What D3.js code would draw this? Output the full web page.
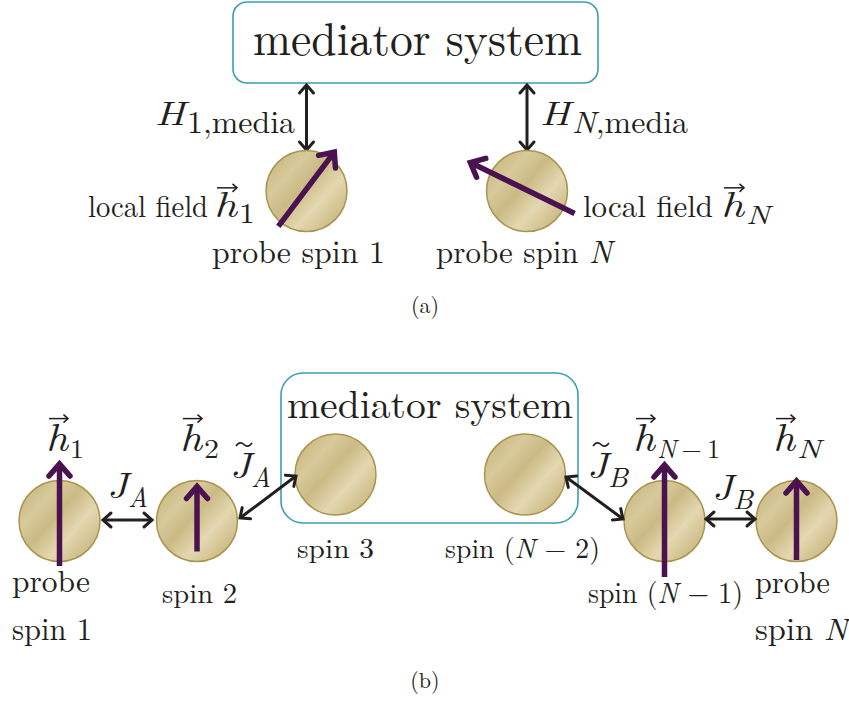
<!DOCTYPE html>
<html>
<head>
<meta charset="utf-8">
<script src="https://cdn.jsdelivr.net/npm/d3@7"></script>
<style>
  html, body { margin: 0; padding: 0; background: #fff; }
</style>
</head>
<body>
<script>
'use strict';

// ---- data ----
// panel (a): two probe spins coupled to the mediator
const aProbeLabels = ['probe spin 1', 'probe spin N'];
const aCouplings   = [['1', ',media'], ['N', ',media']];
const aFieldSub    = ['1', 'N'];
const aFieldAngle  = [53, 154];     // direction of local field, degrees (counter-clockwise from +x)
const aFieldLen    = [93, 116];

// panel (b): spin chain
const bSpinNames   = ['probe spin 1', 'spin 2', 'spin 3', 'spin (N − 2)', 'spin (N − 1)', 'probe spin N'];
const bFieldSub    = ['1', '2', null, null, 'N−1', 'N'];
const bFieldLen    = [102, 65, 0, 0, 112, 79];
const bFieldShift  = [-6, -2, 0, 0, 0, -0.5];
const bCouplings   = [['J', 'A', false], ['J', 'A', true], ['J', 'B', true], ['J', 'B', false]];
const captions     = ['(a)', '(b)'];

const W = 849, H = 702;
const ink = '#231f20', purple = '#4b1250', teal = '#3d9db3';
const FONT = '"Latin Modern Roman", "Liberation Serif", serif';

const svg = d3.select('body').append('svg').attr('width', W).attr('height', H)
  .style('font-family', FONT);

const defs = svg.append('defs');
const grad = defs.append('linearGradient').attr('id', 'gold')
  .attr('x1', 0).attr('y1', 0).attr('x2', 1).attr('y2', 0.9);
[[0, '#c3af74'], [0.3, '#d8ca9c'], [0.47, '#cbba85'], [0.68, '#e4d8b1'], [1, '#c3af74']]
  .forEach(s => grad.append('stop').attr('offset', s[0]).attr('stop-color', s[1]));

const R = 40.5;

// ---- helpers ----
function label(g, x, y, size, str, opts) {
  opts = opts || {};
  const t = g.append('text').attr('x', x).attr('y', y).attr('font-size', size)
    .style('font-family', FONT).attr('fill', ink).text(str);
  if (opts.italic) t.attr('font-style', 'italic');
  if (opts.anchor) t.attr('text-anchor', opts.anchor);
  if (opts.width) t.attr('textLength', opts.width).attr('lengthAdjust', 'spacingAndGlyphs');
  return t;
}

function head(g, tip, from, len, half, color, sw) {
  const dx = tip[0] - from[0], dy = tip[1] - from[1];
  const d = Math.hypot(dx, dy), ux = dx / d, uy = dy / d;
  const bx = tip[0] - ux * len, by = tip[1] - uy * len;
  const pts = [[bx - uy * half, by + ux * half], tip, [bx + uy * half, by - ux * half]];
  g.append('path').attr('d', d3.line()(pts)).attr('fill', 'none')
    .attr('stroke', color).attr('stroke-width', sw)
    .attr('stroke-linecap', 'round').attr('stroke-linejoin', 'miter');
}

function arrow(g, p0, p1, opts) {
  const sw = opts.sw, color = opts.color;
  g.append('line').attr('x1', p0[0]).attr('y1', p0[1]).attr('x2', p1[0]).attr('y2', p1[1])
    .attr('stroke', color).attr('stroke-width', sw).attr('stroke-linecap', 'butt');
  head(g, p1, p0, opts.len, opts.half, color, sw);
  if (opts.both) head(g, p0, p1, opts.len, opts.half, color, sw);
}

const black = { sw: 3, color: ink, len: 8, half: 7, both: true };
const field = { sw: 5.5, color: purple, len: 12, half: 10.5, both: false };

function spin(g, cx, cy) {
  g.append('circle').attr('cx', cx).attr('cy', cy).attr('r', R)
    .attr('fill', 'url(#gold)').attr('stroke', '#a8954f').attr('stroke-width', 1.5);
}

// vector h with subscript; x = left of h, y = baseline, hw = width of h
function vecH(g, x, y, size, hw, sub, subSize, subDy, subW) {
  label(g, x, y, size, 'h', { italic: true, width: hw });
  const ay = y - size * 0.81, ax0 = x + 3, ax1 = x + hw;
  g.append('line').attr('x1', ax0).attr('y1', ay).attr('x2', ax1).attr('y2', ay)
    .attr('stroke', ink).attr('stroke-width', 1.5);
  g.append('path').attr('d', d3.line()([[ax1 - 4.5, ay - 4], [ax1, ay], [ax1 - 4.5, ay + 4]]))
    .attr('fill', 'none').attr('stroke', ink).attr('stroke-width', 1.5);
  const t = g.append('text').attr('x', x + hw + 2).attr('y', y + subDy).attr('font-size', subSize)
    .style('font-family', FONT).attr('fill', ink);
  if (subW) t.attr('textLength', subW).attr('lengthAdjust', 'spacingAndGlyphs');
  sub.split('').forEach(c => {
    const ts = t.append('tspan').text(c === '−' ? '\u2009−\u2009' : c);
    if (/[A-Z]/.test(c)) ts.attr('font-style', 'italic');
  });
  return t;
}

// J or J-tilde with subscript
function coupling(g, x, y, name, sub, tilde) {
  label(g, x, y, 36, name, { italic: true, width: 21 });
  if (tilde) {
    const tx = x + 6;
    g.append('path').attr('d', `M${tx},${y - 32} q4,-5.5 8,-1.5 t8,-1.5`).attr('fill', 'none')
      .attr('stroke', ink).attr('stroke-width', 1.7);
  }
  label(g, x + 21, y + 9, 28, sub, { italic: true, width: 20 });
}

// ===== panel (a) =====
const ga = svg.append('g');
ga.append('rect').attr('x', 233).attr('y', 2).attr('width', 365).attr('height', 81)
  .attr('rx', 14).attr('fill', 'none').attr('stroke', teal).attr('stroke-width', 1.6);
label(ga, 253, 55, 46, 'mediator system', { width: 329 });

const aX = d3.scalePoint().domain(d3.range(aProbeLabels.length)).range([306.5, 527]);
const aCy = 191;
const aMid = [[-0.2, -1.8], [-4.5, -3]];

aProbeLabels.forEach((name, i) => {
  const cx = aX(i);
  arrow(ga, [cx, 85], [cx, 150], black);
  spin(ga, cx, aCy);
  const ang = aFieldAngle[i] * Math.PI / 180, L = aFieldLen[i];
  const mx = cx + aMid[i][0], my = aCy + aMid[i][1];
  const p0 = [mx - Math.cos(ang) * L / 2, my + Math.sin(ang) * L / 2];
  const p1 = [mx + Math.cos(ang) * L / 2, my - Math.sin(ang) * L / 2];
  arrow(ga, p0, p1, field);
});

// coupling labels H_{k,media}
[[155, 187], [540, 572]].forEach((pos, i) => {
  label(ga, pos[0], 125, 33, 'H', { italic: true, width: 30 });
  const t = ga.append('text').attr('x', pos[1]).attr('y', 133).attr('font-size', 31)
    .style('font-family', FONT).attr('fill', ink)
    .attr('textLength', i === 0 ? 108 : 116).attr('lengthAdjust', 'spacingAndGlyphs');
  t.append('tspan').text(aCouplings[i][0]).attr('font-style', i === 0 ? 'normal' : 'italic');
  t.append('tspan').text(aCouplings[i][1]);
});

// local field labels
label(ga, 88, 217, 31, 'local field', { width: 120 });
vecH(ga, 214, 217, 36, 23, aFieldSub[0], 28, 6, 16);
label(ga, 583, 217, 31, 'local field', { width: 130 });
vecH(ga, 721, 217, 36, 23, aFieldSub[1], 26, 7, 24);

label(ga, 212, 263, 32, aProbeLabels[0], { width: 173 });
const pn = ga.append('text').attr('x', 436).attr('y', 263).attr('font-size', 32)
  .style('font-family', FONT).attr('fill', ink)
  .attr('textLength', 176).attr('lengthAdjust', 'spacingAndGlyphs');
pn.append('tspan').text('probe spin ');
pn.append('tspan').text('N').attr('font-style', 'italic');

label(ga, 425, 313, 22, captions[0], { anchor: 'middle' });

// ===== panel (b) =====
const gb = svg.append('g');
gb.append('rect').attr('x', 281).attr('y', 373).attr('width', 297).attr('height', 150)
  .attr('rx', 22).attr('fill', 'none').attr('stroke', teal).attr('stroke-width', 1.6);
label(gb, 287, 418, 40, 'mediator system', { width: 286 });

const bCx = [59.5, 197, 335.5, 525, 664.5, 796.5];
const bCy = [521, 521, 474.5, 474.5, 521, 521];
const fy = d3.scaleLinear().domain([0, 100]).range([0, 100]);

bSpinNames.forEach((name, i) => {
  spin(gb, bCx[i], bCy[i]);
  const L = fy(bFieldLen[i]);
  if (L > 0) {
    const cy = bCy[i] + bFieldShift[i];
    arrow(gb, [bCx[i], cy + L / 2], [bCx[i], cy - L / 2], field);
  }
});

// field labels: [spin index, h left, subscript width]
[[0, 46, 14], [1, 180, 15], [4, 633, 63], [5, 773, 24]].forEach(d => {
  vecH(gb, d[1], 451, 40, 22, bFieldSub[d[0]], 26, 7, d[2]);
});

// couplings between neighbours
const bArrows = [[[103, 520], [152, 520]], [[240, 518], [296, 476]], [[566, 477], [623, 519]], [[706, 519], [755, 519]]];
const bLabelPos = [[107, 498], [230, 478], [587, 478], [712, 500]];
bCouplings.forEach((c, k) => {
  arrow(gb, bArrows[k][0], bArrows[k][1], black);
  coupling(gb, bLabelPos[k][0], bLabelPos[k][1], c[0], c[1], c[2]);
});

// spin names
label(gb, 12, 592, 31, 'probe', { width: 78 });
label(gb, 12, 640, 31, 'spin 1', { width: 80 });
label(gb, 162, 603, 28, 'spin 2', { width: 75 });
label(gb, 297, 558, 28, 'spin 3', { width: 77 });
function spinN(g, x, y, size, w, k) {
  const t = g.append('text').attr('x', x).attr('y', y).attr('font-size', size)
    .style('font-family', FONT).attr('fill', ink)
    .attr('textLength', w).attr('lengthAdjust', 'spacingAndGlyphs');
  t.append('tspan').text('spin (');
  t.append('tspan').text('N').attr('font-style', 'italic');
  t.append('tspan').text(' − ' + k + ')');
}
spinN(gb, 445, 558, 28, 155, 2);
spinN(gb, 588, 603, 29, 155, 1);
label(gb, 755, 593, 31, 'probe', { width: 75 });
const sn = gb.append('text').attr('x', 755).attr('y', 640).attr('font-size', 31)
  .style('font-family', FONT).attr('fill', ink)
  .attr('textLength', 93).attr('lengthAdjust', 'spacingAndGlyphs');
sn.append('tspan').text('spin ');
sn.append('tspan').text('N').attr('font-style', 'italic');

label(gb, 425, 688, 22, captions[1], { anchor: 'middle' });
</script>
</body>
</html>
